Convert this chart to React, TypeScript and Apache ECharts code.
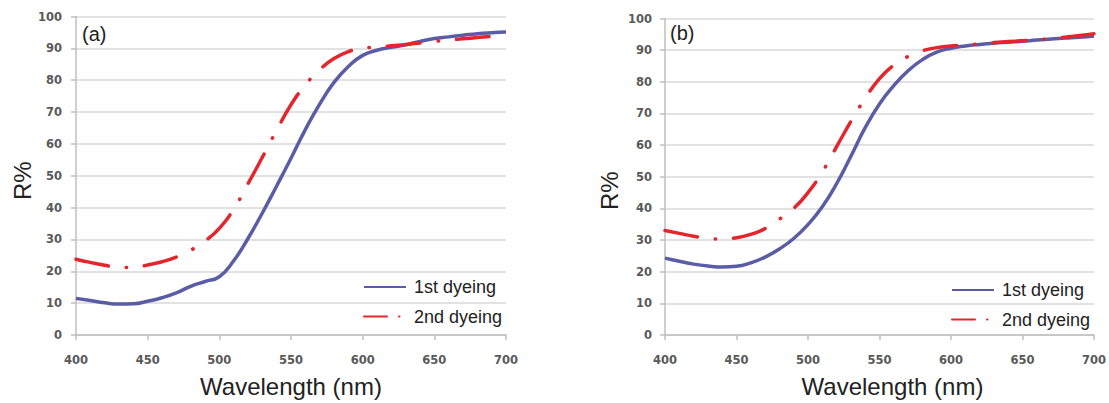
import React, { useEffect, useRef } from "react";
import * as echarts from "echarts";

const wavelengths = [400, 410, 420, 430, 440, 450, 460, 470, 480, 490, 500, 510, 520, 530, 540, 550, 560, 570, 580, 590, 600, 610, 620, 630, 640, 650, 660, 670, 680, 690, 700];

// Panel (a)
const panelA1st = [11.5, 10.8, 10.1, 9.7, 9.8, 10.6, 11.7, 13.2, 15.3, 16.8, 18.3, 23.3, 30.3, 38.3, 46.8, 55.5, 64.5, 72.5, 79.3, 84.3, 87.8, 89.4, 90.3, 91.1, 92.2, 93.1, 93.6, 94.1, 94.6, 94.9, 95.1];
const panelA2nd = [23.8, 22.8, 21.9, 21.2, 21.2, 22, 23, 24.5, 26.6, 29.5, 33.5, 39.5, 47.5, 55.8, 64.3, 72.3, 78.5, 83.3, 86.8, 89, 90, 90.4, 90.8, 91.2, 91.7, 92.2, 92.6, 93, 93.4, 93.8, 94];

// Panel (b)
const panelB1st = [24.3, 23.3, 22.4, 21.8, 21.5, 21.7, 22.8, 24.6, 27.2, 30.5, 34.9, 40.5, 47.8, 56.5, 65.5, 73, 78.8, 83.5, 87, 89.4, 90.6, 91.3, 91.8, 92.2, 92.5, 92.8, 93.2, 93.5, 93.8, 94.1, 94.5];
const panelB2nd = [33, 32.1, 31.2, 30.5, 30.3, 30.7, 31.8, 33.6, 36.6, 40, 45, 51.5, 59.5, 67.5, 74.8, 81, 85.3, 88, 89.8, 90.8, 91.3, 91.7, 92, 92.4, 92.7, 93, 93.3, 93.6, 94.1, 94.6, 95.2];

const seriesNames = ["1st dyeing", "2nd dyeing"];
const panelLabels = ["(a)", "(b)"];
const xName = "Wavelength (nm)";
const yName = "R%";

const BLUE = "#5A5DA6";
const RED = "#E4262C";
const AXIS = "#BFBFBF";
const GRID = "#D9D9D9";
const TICK_TEXT = "#595959";

const pairs = (ys: number[]) => wavelengths.map((w, i) => [w, ys[i]]);

export default function App() {
  const ref = useRef<HTMLDivElement>(null);
  useEffect(() => {
    const chart = echarts.init(ref.current!, null, { renderer: "svg" });

    const tickLabel = {
      color: TICK_TEXT,
      fontFamily: "DejaVu Sans",
      fontWeight: "bold" as const,
      fontSize: 11.5,
    };

    const mkX = (gridIndex: number, pad: number[]) => ({
      type: "value",
      gridIndex,
      min: 400,
      max: 700,
      interval: 50,
      name: xName,
      nameLocation: "middle",
      nameGap: 39,
      nameTextStyle: { fontFamily: "Liberation Sans", fontSize: 24, color: "#222", padding: pad },
      axisLine: { show: true, onZero: false, lineStyle: { color: AXIS, width: 1.5 } },
      axisTick: { show: true, length: 5, lineStyle: { color: AXIS, width: 1.5 } },
      axisLabel: { ...tickLabel, margin: 19 },
      splitLine: { show: false },
    });

    const mkY = (gridIndex: number, gap: number, pad: number[], margin: number) => ({
      type: "value",
      gridIndex,
      min: 0,
      max: 100,
      interval: 10,
      name: yName,
      nameLocation: "middle",
      nameGap: gap,
      nameTextStyle: { fontFamily: "Liberation Sans", fontSize: 24, color: "#222", padding: pad },
      axisLine: { show: true, onZero: false, lineStyle: { color: AXIS, width: 1.5 } },
      axisTick: { show: true, length: 5, lineStyle: { color: AXIS, width: 1.5 } },
      axisLabel: { ...tickLabel, margin },
      splitLine: { show: true, lineStyle: { color: GRID, width: 1.5 } },
    });

    const blueLine = { color: BLUE, width: 3.5, type: "solid" as const };
    const redLine = { color: RED, width: 3.5, type: [33, 18, 0.5, 18], cap: "round" as const };

    const mkSeries = (name: string, data: number[], idx: number, lineStyle: any, color: string) => ({
      type: "line",
      name,
      xAxisIndex: idx,
      yAxisIndex: idx,
      data: pairs(data),
      symbol: "none",
      showSymbol: false,
      smooth: 0.5,
      itemStyle: { color },
      lineStyle,
    });

    const mkLegend = (left: number, top: number) => ({
      orient: "vertical",
      left,
      top,
      itemWidth: 42,
      itemHeight: 14,
      itemGap: 9.5,
      selectedMode: false,
      itemStyle: { opacity: 0 },
      textStyle: { fontFamily: "Liberation Sans", fontSize: 18, color: "#222", lineHeight: 20, padding: [0, 0, 0, 3] },
      data: [
        { name: seriesNames[0] },
        { name: seriesNames[1], lineStyle: { type: [23, 12, 0.5, 12], cap: "round" } },
      ],
    });

    chart.setOption({
      animation: false,
      backgroundColor: "#ffffff",
      grid: [
        { left: 76, top: 16.5, width: 430, height: 320.5 },
        { left: 665, top: 18.5, width: 429, height: 320.5 },
      ],
      xAxis: [mkX(0, [0, 0, 0, 0]), mkX(1, [0, 0, 0, 26])],
      yAxis: [mkY(0, 39, [0, 10, 0, 0], 14), mkY(1, 44, [0, 28, 0, 0], 13)],
      legend: [mkLegend(358, 272), mkLegend(946, 275)],
      series: [
        mkSeries(seriesNames[0], panelA1st, 0, blueLine, BLUE),
        mkSeries(seriesNames[1], panelA2nd, 0, redLine, RED),
        mkSeries(seriesNames[0], panelB1st, 1, blueLine, BLUE),
        mkSeries(seriesNames[1], panelB2nd, 1, redLine, RED),
      ],
      graphic: [
        { type: "text", x: 82, y: 34, style: { text: panelLabels[0], fontSize: 20, fontFamily: "Liberation Sans", fill: "#222", verticalAlign: "middle", textVerticalAlign: "middle" } },
        { type: "text", x: 670, y: 33, style: { text: panelLabels[1], fontSize: 20, fontFamily: "Liberation Sans", fill: "#222", verticalAlign: "middle", textVerticalAlign: "middle" } },
      ],
    } as any);

    return () => chart.dispose();
  }, []);

  return (
    <div
      ref={ref}
      style={{ position: "fixed", left: 0, top: 0, width: 1109, height: 403, background: "#fff" }}
    />
  );
}
